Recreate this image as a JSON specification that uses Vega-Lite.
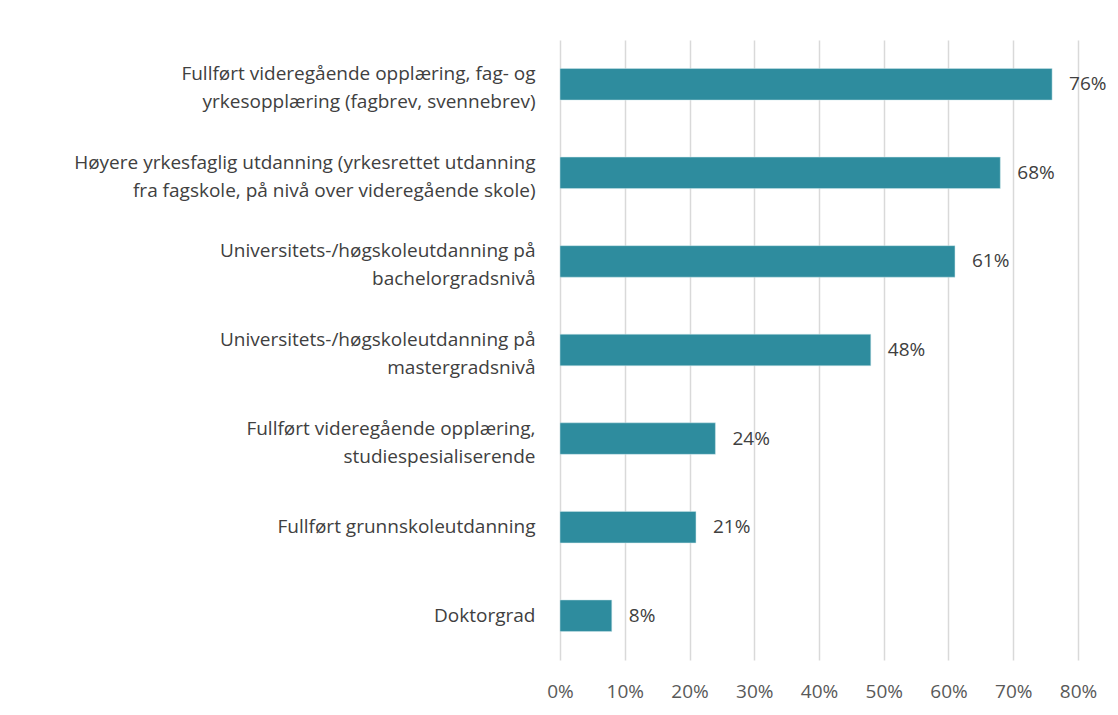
{
  "$schema": "https://vega.github.io/schema/vega-lite/v6.json",
  "width": 518,
  "height": 620,
  "autosize": {"type": "none"},
  "padding": {"left": 560, "top": 40, "right": 40, "bottom": 55},
  "background": "white",
  "config": {
    "view": {"stroke": null},
    "font": "Open Sans",
    "axis": {"labelFont": "Open Sans", "labelFontSize": 19, "labelColor": "#404040"}
  },
  "data": {
    "values": [
      {"kategori": "Fullført videregående opplæring, fag- og|yrkesopplæring (fagbrev, svennebrev)", "andel": 0.76, "rekke": 1},
      {"kategori": "Høyere yrkesfaglig utdanning (yrkesrettet utdanning|fra fagskole, på nivå over videregående skole)", "andel": 0.68, "rekke": 2},
      {"kategori": "Universitets-/høgskoleutdanning på|bachelorgradsnivå", "andel": 0.61, "rekke": 3},
      {"kategori": "Universitets-/høgskoleutdanning på|mastergradsnivå", "andel": 0.48, "rekke": 4},
      {"kategori": "Fullført videregående opplæring,|studiespesialiserende", "andel": 0.24, "rekke": 5},
      {"kategori": "Fullført grunnskoleutdanning", "andel": 0.21, "rekke": 6},
      {"kategori": "Doktorgrad", "andel": 0.08, "rekke": 7}
    ]
  },
  "encoding": {
    "y": {
      "field": "kategori",
      "type": "nominal",
      "sort": {"field": "rekke", "order": "ascending"},
      "scale": {"paddingInner": 0.644, "paddingOuter": 0.322},
      "axis": {
        "title": null,
        "domain": false,
        "ticks": false,
        "labelPadding": 25,
        "labelLineHeight": 28,
        "labelLimit": 600,
        "labelOffset": {"condition": {"test": "indexof(datum.value, '|') >= 0", "value": -10}, "value": 0},
        "labelExpr": "split(datum.label, '|')"
      }
    },
    "x": {
      "field": "andel",
      "type": "quantitative",
      "scale": {"domain": [0, 0.8], "nice": false},
      "axis": {
        "title": null,
        "format": ".0%",
        "values": [0, 0.1, 0.2, 0.3, 0.4, 0.5, 0.6, 0.7, 0.8],
        "domain": false,
        "ticks": false,
        "grid": true,
        "gridColor": "#d9d9d9",
        "gridWidth": 1.5,
        "labelFlush": false,
        "labelColor": "#595959",
        "labelPadding": 22
      }
    }
  },
  "layer": [
    {"mark": {"type": "bar", "color": "#2E8C9E", "stroke": "#cfe6ea", "strokeWidth": 0.5}},
    {
      "mark": {"type": "text", "align": "left", "baseline": "middle", "dx": 17, "fontSize": 19, "color": "#404040", "font": "Open Sans"},
      "encoding": {"text": {"field": "andel", "type": "quantitative", "format": ".0%"}}
    }
  ]
}
